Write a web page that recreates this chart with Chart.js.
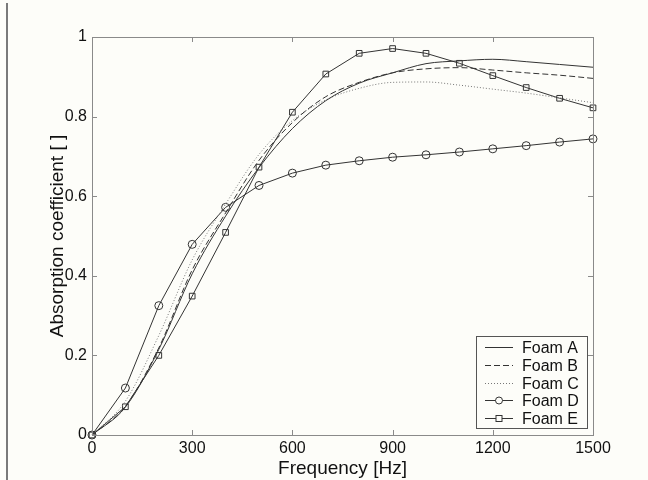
<!DOCTYPE html>
<html>
<head>
<meta charset="utf-8">
<script src="https://cdn.jsdelivr.net/npm/chart.js@4"></script>
<style>
  html, body { margin: 0; padding: 0; background: #fdfdf9; }
  #wrap { position: relative; width: 648px; height: 480px; }
  #edge { position: absolute; left: 6px; top: 3px; width: 2px; height: 477px; background: #7a7a7a; }
  canvas { position: absolute; left: 0; top: 0; }
</style>
</head>
<body>
<div id="wrap">
  <div id="edge"></div>
  <canvas id="chart" width="648" height="480"></canvas>
</div>
<script>
const freq = [0, 100, 200, 300, 400, 500, 600, 700, 800, 900, 1000, 1100, 1200, 1300, 1400, 1500];
const foamA = [0, 0.07, 0.215, 0.405, 0.55, 0.672, 0.77, 0.84, 0.884, 0.91, 0.933, 0.94, 0.944, 0.938, 0.931, 0.924];
const foamB = [0, 0.072, 0.219, 0.415, 0.558, 0.69, 0.785, 0.85, 0.886, 0.91, 0.92, 0.923, 0.917, 0.91, 0.904, 0.896];
const foamC = [0, 0.085, 0.25, 0.44, 0.58, 0.705, 0.79, 0.842, 0.871, 0.886, 0.887, 0.879, 0.869, 0.859, 0.847, 0.835];
const foamD = [0, 0.118, 0.325, 0.479, 0.572, 0.627, 0.658, 0.678, 0.689, 0.698, 0.704, 0.711, 0.719, 0.727, 0.736, 0.744];
const foamE = [0, 0.071, 0.2, 0.349, 0.509, 0.673, 0.811, 0.907, 0.959, 0.971, 0.959, 0.934, 0.903, 0.873, 0.846, 0.822];
const xTicks = [0, 300, 600, 900, 1200, 1500];
const yTicks = [0, 0.2, 0.4, 0.6, 0.8, 1];

const ink = '#333';
const font = 'Arial, "Liberation Sans", sans-serif';

const series = [
  { label: 'Foam A', data: foamA, dash: [], marker: false, smooth: true },
  { label: 'Foam B', data: foamB, dash: [6, 3], marker: false, smooth: true },
  { label: 'Foam C', data: foamC, dash: [1, 2], marker: false, smooth: true },
  { label: 'Foam D', data: foamD, dash: [], marker: 'circle', smooth: false },
  { label: 'Foam E', data: foamE, dash: [], marker: 'rect', smooth: false },
];

const datasets = series.map(s => ({
  label: s.label,
  data: freq.map((f, i) => ({ x: f, y: s.data[i] })),
  borderColor: s.label === 'Foam C' ? '#777' : ink,
  borderWidth: 1,
  borderDash: s.dash,
  tension: s.smooth ? 0.35 : 0,
  cubicInterpolationMode: s.smooth ? 'monotone' : 'default',
  pointStyle: s.marker || 'circle',
  pointRadius: s.marker ? 4 : 0,
  pointBackgroundColor: 'rgba(0,0,0,0)',
  pointBorderColor: ink,
  pointBorderWidth: 1,
  fill: false,
  clip: false,
}));

// MATLAB style: box round the axes, ticks pointing inward on every side
const boxTicks = {
  id: 'boxTicks',
  afterDatasetsDraw(chart) {
    const { ctx, chartArea: a, scales: { x, y } } = chart;
    ctx.save();
    ctx.strokeStyle = '#8a8a8a';
    ctx.lineWidth = 1;
    ctx.strokeRect(a.left + 0.5, a.top + 0.5, a.right - a.left, a.bottom - a.top);
    ctx.beginPath();
    xTicks.forEach(v => {
      const px = Math.round(x.getPixelForValue(v)) + 0.5;
      ctx.moveTo(px, a.bottom); ctx.lineTo(px, a.bottom - 5);
      ctx.moveTo(px, a.top); ctx.lineTo(px, a.top + 5);
    });
    yTicks.forEach(v => {
      const py = Math.round(y.getPixelForValue(v)) + 0.5;
      ctx.moveTo(a.left, py); ctx.lineTo(a.left + 5, py);
      ctx.moveTo(a.right, py); ctx.lineTo(a.right - 5, py);
    });
    ctx.stroke();
    ctx.restore();
  }
};

// legend box in the lower right corner of the plot
const innerLegend = {
  id: 'innerLegend',
  afterDraw(chart) {
    const { ctx, chartArea: a } = chart;
    const bx = a.right - 117, by = a.bottom - 99, bw = 111, bh = 92;
    ctx.save();
    ctx.fillStyle = '#fdfdf9';
    ctx.fillRect(bx, by, bw, bh);
    ctx.strokeStyle = '#555';
    ctx.lineWidth = 1;
    ctx.strokeRect(bx + 0.5, by + 0.5, bw, bh);
    ctx.font = '16px ' + font;
    ctx.textBaseline = 'middle';
    series.forEach((s, i) => {
      const cy = Math.round(by + 11 + i * 17.8) + 0.5;
      const x0 = bx + 9, x1 = bx + 37;
      ctx.strokeStyle = s.label === 'Foam C' ? '#777' : ink;
      ctx.setLineDash(s.dash);
      ctx.beginPath(); ctx.moveTo(x0, cy); ctx.lineTo(x1, cy); ctx.stroke();
      ctx.setLineDash([]);
      ctx.strokeStyle = ink;
      const mx = (x0 + x1) / 2;
      if (s.marker === 'circle') {
        ctx.fillStyle = '#fdfdf9';
        ctx.beginPath(); ctx.arc(mx, cy, 3.5, 0, Math.PI * 2); ctx.fill(); ctx.stroke();
      } else if (s.marker === 'rect') {
        ctx.fillStyle = '#fdfdf9';
        ctx.fillRect(mx - 3, cy - 3, 6, 6); ctx.strokeRect(mx - 3, cy - 3, 6, 6);
      }
      ctx.fillStyle = '#111';
      ctx.fillText(s.label, bx + 46, cy + 1);
    });
    ctx.restore();
  }
};

new Chart(document.getElementById('chart'), {
  type: 'line',
  data: { datasets },
  options: {
    responsive: false,
    animation: false,
    layout: { padding: { left: 0, top: 37, right: 55, bottom: 0 } },
    plugins: { legend: { display: false }, tooltip: { enabled: false } },
    scales: {
      x: {
        type: 'linear', min: 0, max: 1500,
        afterBuildTicks: s => { s.ticks = xTicks.map(v => ({ value: v })); },
        afterFit: s => { s.height = 45; },
        grid: { display: false, drawTicks: false },
        border: { display: false },
        ticks: { color: '#111', font: { family: font, size: 16 }, padding: 4, callback: v => String(v) },
        title: { display: true, text: 'Frequency [Hz]', color: '#111', font: { family: font, size: 19 }, padding: { top: 0, bottom: 0 } }
      },
      y: {
        type: 'linear', min: 0, max: 1,
        afterBuildTicks: s => { s.ticks = yTicks.map(v => ({ value: v })); },
        afterFit: s => { s.width = 92; },
        grid: { display: false, drawTicks: false },
        border: { display: false },
        ticks: { color: '#111', font: { family: font, size: 16 }, padding: 5, callback: v => String(+v.toFixed(1)) },
        title: { display: true, text: 'Absorption coefficient [ ]', color: '#111', font: { family: font, size: 19 }, padding: { top: 46, bottom: 0 } }
      }
    }
  },
  plugins: [boxTicks, innerLegend]
});
</script>
</body>
</html>
